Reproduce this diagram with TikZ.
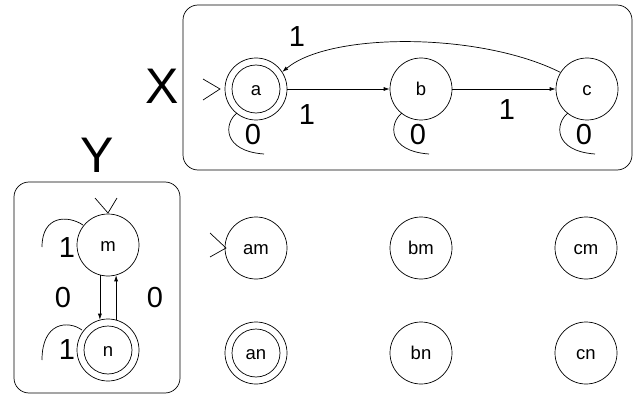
\documentclass[tikz,border=0pt]{standalone}
\usepackage{fontspec}
\setmainfont{Liberation Sans}
\usetikzlibrary{arrows.meta,calc}
\begin{document}
\begin{tikzpicture}[x=1pt,y=-1pt,
  state/.style={draw,circle,minimum size=62pt,inner sep=0pt,line width=0.7pt,
                font=\fontsize{18.5}{18.5}\selectfont,text height=13pt,text depth=0pt},
  accept/.style={state},
  lbl/.style={font=\fontsize{29}{29}\selectfont,inner sep=0pt},
  title/.style={font=\fontsize{50}{50}\selectfont,inner sep=0pt},
  box/.style={draw,rounded corners=15pt,line width=0.7pt},
  edge/.style={line width=0.7pt,-{Latex[length=6pt,width=4pt]}},
  plain/.style={line width=0.7pt}]
\useasboundingbox (0,0) rectangle (635,396);

% automaton frames
\draw[box] (183,5) rectangle (632,170);
\draw[box] (14,182) rectangle (180,393);
\node[title] (X) at (162,86) {X};
\node[title] (Y) at (97,155) {Y};

% automaton X
\node[accept] (a) at (256,89) {a};
\node[state]  (b) at (421,89) {b};
\node[state]  (c) at (587,89) {c};
\draw[plain] (a.center) circle[radius=24pt];

\draw[plain] ($(a)+(-53,-10)$) -- ($(a)+(-36,0)$) -- ($(a)+(-53,11)$);

\draw[edge] (a) -- (b);
\draw[edge] (b) -- (c);
\draw[edge] (c.148) .. controls (480,32) and (330,32) .. (a.33);
\node[lbl] (lca) at (297,37) {1};
\node[lbl] (lab) at (307,115) {1};
\node[lbl] (lbc) at (507,110) {1};

\foreach \s in {a,b,c}{
  \draw[plain] ($(\s)+(-19,24)$) .. controls ($(\s)+(-32,34)$) and ($(\s)+(-34,62)$) .. ($(\s)+(8,65)$);
  \node[lbl] (z\s) at ($(\s)+(-3,46)$) {0};
}

% automaton Y
\node[state]  (m) at (108,245) {m};
\node[accept] (n) at (108,350) {n};
\draw[plain] (n.center) circle[radius=24pt];

\draw[plain] ($(m)+(-13,-47)$) -- ($(m)+(0,-32)$) -- ($(m)+(9,-47)$);

\draw[edge] (m.255) -- (n.105);
\draw[edge] (n.75) -- (m.285);
\node[lbl] (lmn) at (63,298) {0};
\node[lbl] (lnm) at (155,298) {0};

\draw[plain] ($(m)+(-25,-20)$) .. controls ($(m)+(-40,-30)$) and ($(m)+(-66,-30)$) .. ($(m)+(-66,2)$);
\node[lbl] (om) at ($(m)+(-41,3)$) {1};
\draw[plain] ($(n)+(-26,-20)$) .. controls ($(n)+(-40,-30)$) and ($(n)+(-66,-28)$) .. ($(n)+(-66,10)$);
\node[lbl] (on) at ($(n)+(-41,0)$) {1};

% product states
\node[state]  (am) at (256,248) {am};
\node[state]  (bm) at (421,248) {bm};
\node[state]  (cm) at (586,248) {cm};
\node[accept] (an) at (256,353) {an};
\node[state]  (bn) at (421,353) {bn};
\node[state]  (cn) at (586,353) {cn};
\draw[plain] (an.center) circle[radius=24pt];

\draw[plain] ($(am)+(-46,-15)$) -- ($(am)+(-30,0)$) -- ($(am)+(-46,9)$);
\end{tikzpicture}
\end{document}
